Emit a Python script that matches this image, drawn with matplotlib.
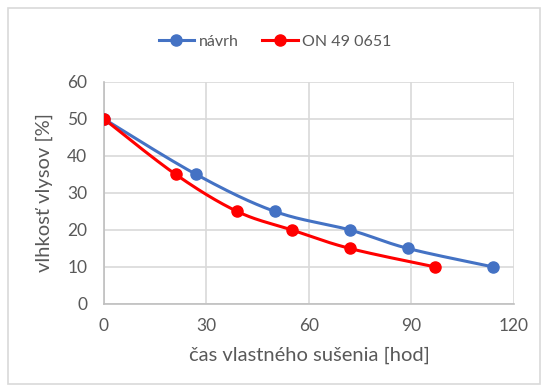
import numpy as np
import matplotlib.pyplot as plt
from matplotlib.patches import Rectangle

plt.rcParams["font.family"] = ["Lato", "DejaVu Sans"]

# namerané body sušenia
navrh_x = [0, 27, 50, 72, 89, 114]
navrh_y = [50, 35, 25, 20, 15, 10]
norma_x = [0, 21, 39, 55, 72, 97]
norma_y = [50, 35, 25, 20, 15, 10]

x_ticks = [0, 30, 60, 90, 120]
y_ticks = [0, 10, 20, 30, 40, 50, 60]

GRAY = "#595959"


def smooth(xs, ys, n=30):
    # vyhladenie ako v Exceli - Bezierove krivky s kontrolnými bodmi podľa susedov
    p = np.column_stack([xs, ys]).astype(float)
    out = [p[0]]
    for i in range(len(p) - 1):
        p0 = p[i - 1] if i > 0 else p[i]
        p1, p2 = p[i], p[i + 1]
        p3 = p[i + 2] if i + 2 < len(p) else p[i + 1]
        c1 = p1 + (p2 - p0) / 6
        c2 = p2 - (p3 - p1) / 6
        t = np.linspace(0, 1, n)[1:, None]
        seg = (1 - t) ** 3 * p1 + 3 * (1 - t) ** 2 * t * c1 + 3 * (1 - t) * t ** 2 * c2 + t ** 3 * p2
        out.extend(seg)
    out = np.array(out)
    return out[:, 0], out[:, 1]


fig = plt.figure(figsize=(5.45, 3.92), dpi=100)
fig.patches.append(Rectangle((0.015, 0.02), 0.975, 0.96, transform=fig.transFigure,
                             fill=False, edgecolor="#d9d9d9", linewidth=1.2))
ax = fig.add_axes([0.1908, 0.2245, 0.7523, 0.5665])

for xs, ys, c, name in [(navrh_x, navrh_y, "#4472C4", "návrh"),
                        (norma_x, norma_y, "#FF0000", "ON 49 0651")]:
    sx, sy = smooth(xs, ys)
    ax.plot(sx, sy, color=c, lw=2.2, zorder=3)
    ax.plot(xs, ys, "o", color=c, ms=8, zorder=4)
    ax.plot([], [], "-o", color=c, lw=2.2, ms=8, label=name)

ax.set_xlim(0, 120)
ax.set_ylim(0, 60)
ax.set_xticks(x_ticks)
ax.set_yticks(y_ticks)
ax.grid(True, color="#d9d9d9", lw=1.2, zorder=0)
ax.set_axisbelow(True)
for s in ["top", "right"]:
    ax.spines[s].set_visible(False)
for s in ["left", "bottom"]:
    ax.spines[s].set_color("#bfbfbf")
    ax.spines[s].set_linewidth(1.2)
ax.tick_params(axis="y", length=0, labelsize=12.5, labelcolor=GRAY, pad=12)
ax.tick_params(axis="x", length=0, labelsize=12.5, labelcolor=GRAY, pad=10)

ax.set_xlabel("čas vlastného sušenia [hod]", fontsize=14.5, color=GRAY, labelpad=9)
ax.set_ylabel("vlhkosť vlysov [%]", fontsize=14.5, color=GRAY, labelpad=10)

fig.legend(loc="center", bbox_to_anchor=(0.505, 0.893), ncol=2, frameon=False,
           fontsize=11.5, labelcolor=GRAY, handlelength=2.2, columnspacing=1.5,
           handletextpad=0.3)

fig.savefig("out.png", dpi=100)
